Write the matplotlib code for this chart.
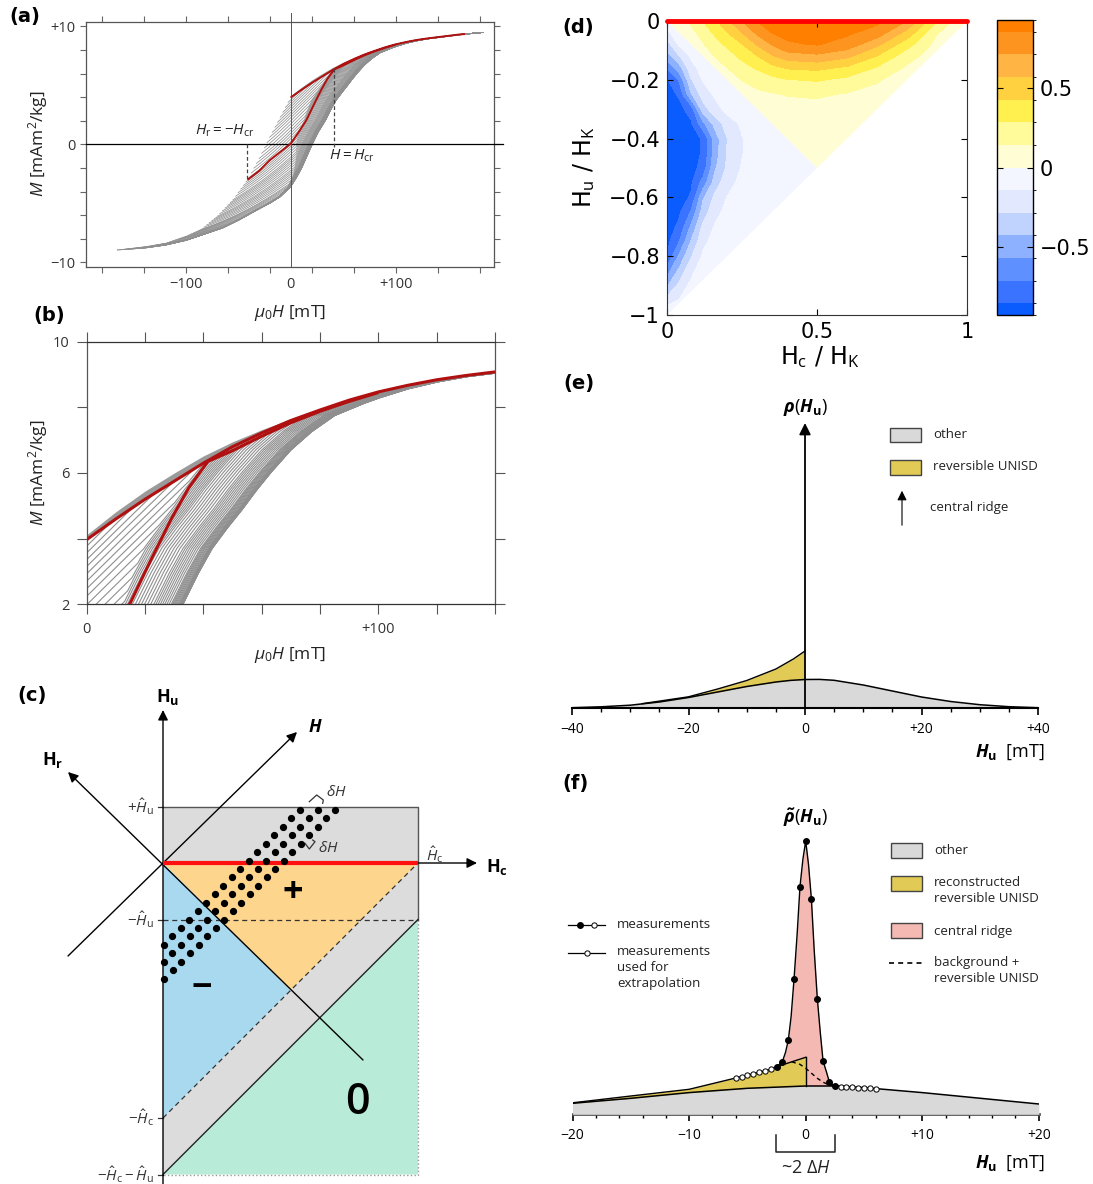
import numpy as np
import matplotlib
matplotlib.use("Agg")
import matplotlib.pyplot as plt
from matplotlib.patches import Polygon, Rectangle
from matplotlib.colors import ListedColormap, BoundaryNorm
from matplotlib.cm import ScalarMappable
from matplotlib.ticker import MultipleLocator

plt.rcParams["font.family"] = ["Open Sans", "DejaVu Sans"]
plt.rcParams["mathtext.fontset"] = "custom"
plt.rcParams["mathtext.rm"] = "Open Sans"
plt.rcParams["mathtext.it"] = "Open Sans:italic"
plt.rcParams["mathtext.bf"] = "Open Sans:bold"
plt.rcParams["mathtext.bfit"] = "Open Sans:italic:bold"

# ---------------- data ----------------
# (a)/(b) hysteresis: field in mT, moment in mAm2/kg
desc_H = [-165, -140, -120, -100, -85, -70, -55, -41, -30, -20, -10, 0, 10, 20, 30, 40, 50, 60,
          70, 80, 90, 100, 110, 120, 130, 140, 160, 183]
desc_M = [-8.95, -8.7, -8.4, -7.8, -7.2, -6.1, -4.7, -3.0, -1.2, 0.6, 2.3, 3.97, 4.6, 5.2, 5.75,
          6.3, 6.8, 7.22, 7.6, 7.92, 8.22, 8.47, 8.67, 8.84, 8.97, 9.08, 9.3, 9.48]
asc_H = [-165, -140, -120, -100, -80, -65, -50, -35, -20, -10, 0, 5, 10, 15, 20, 26, 33, 38, 43,
         48, 53, 58, 63, 70, 77, 85, 95, 100, 110, 120, 130, 140, 160, 183]
asc_M = [-8.95, -8.8, -8.55, -8.15, -7.55, -7.1, -6.45, -5.7, -5.0, -4.45, -3.6, -2.9, -2.1, -1.1,
         -0.1, 1.0, 2.0, 2.9, 3.7, 4.3, 4.85, 5.45, 6.0, 6.7, 7.25, 7.75, 8.12, 8.28, 8.56, 8.77,
         8.93, 9.04, 9.28, 9.48]
band_H = [0, 10, 20, 30, 40, 50, 60, 70, 80, 100, 120, 140]
band_M = [4.12, 4.82, 5.45, 6.0, 6.52, 6.95, 7.32, 7.65, 7.94, 8.47, 8.84, 9.08]
red_H = [-41, -30, -20, -10, 0, 7, 15, 22, 29, 35, 41.5, 50, 60, 70, 80, 90, 100]
red_M = [-3.0, -2.25, -1.35, -0.65, 0.05, 0.95, 2.05, 3.35, 4.6, 5.55, 6.35, 6.68, 7.12, 7.53,
         7.88, 8.18, 8.45]
H_cr = 41.5
# shape of the grey FORC family
rev_H = [-165, -120, -80, -40, 0, 40, 80, 120, 183]
rev_k = [0.012, 0.025, 0.045, 0.065, 0.088, 0.085, 0.055, 0.025, 0.008]
gain_Hr = [-165, -120, -80, -41, 0]
gain_v = [0.3, 0.5, 0.75, 1.0, 1.0]
shift_Hr = [-165, -100, -80, -60, -41, 0]
shift_v = [0, 1, 4, 10, 18, 30]
forc_step = 2.5

# (d) FORC diagram values on a coarse grid (Hc/HK, Hu/HK)
hc_grid = [0, .04, .08, .12, .16, .2, .25, .3, .35, .4, .5, .6, .7, .8, .9, 1.0]
hu_grid = [0, -.04, -.08, -.12, -.16, -.2, -.25, -.3, -.35, -.4, -.45, -.5, -.55, -.6, -.65,
           -.7, -.75, -.8, -.9, -1.0]
forc_z = [
    [0.00, 0.08, 0.17, 0.29, 0.40, 0.54, 0.71, 0.86, 0.90, 0.92, 0.92, 0.91, 0.89, 0.71, 0.29, 0.00],
    [-0.20, 0.00, 0.10, 0.20, 0.31, 0.42, 0.57, 0.74, 0.86, 0.89, 0.90, 0.88, 0.80, 0.52, 0.15, 0.05],
    [-0.35, -0.12, 0.00, 0.13, 0.23, 0.31, 0.42, 0.58, 0.72, 0.84, 0.865, 0.80, 0.60, 0.34, 0.09, 0.05],
    [-0.50, -0.30, -0.12, 0.00, 0.15, 0.22, 0.32, 0.42, 0.55, 0.64, 0.68, 0.60, 0.42, 0.20, 0.06, 0.05],
    [-0.70, -0.50, -0.20, -0.08, 0.00, 0.14, 0.23, 0.30, 0.38, 0.44, 0.46, 0.40, 0.27, 0.12, 0.05, 0.05],
    [-0.87, -0.70, -0.30, -0.13, -0.07, 0.00, 0.15, 0.20, 0.24, 0.28, 0.30, 0.25, 0.16, 0.05, 0.05, 0.05],
    [-0.92, -0.84, -0.45, -0.22, -0.12, -0.06, 0.00, 0.11, 0.13, 0.15, 0.16, 0.13, 0.09, 0.05, 0.05, 0.05],
    [-0.92, -0.90, -0.80, -0.35, -0.20, -0.10, -0.05, 0.00, 0.08, 0.09, 0.10, 0.09, 0.05, 0.05, 0.05, 0.05],
    [-0.92, -0.92, -0.88, -0.62, -0.38, -0.22, -0.12, -0.06, 0.00, 0.07, 0.08, 0.07, 0.05, 0.05, 0.05, 0.05],
    [-0.92, -0.92, -0.92, -0.84, -0.50, -0.29, -0.15, -0.07, -0.04, 0.00, 0.06, 0.05, 0.05, 0.05, 0.05, 0.05],
    [-0.92, -0.92, -0.92, -0.84, -0.50, -0.28, -0.15, -0.07, -0.04, -0.03, 0.04, 0.05, 0.05, 0.05, 0.05, 0.05],
    [-0.92, -0.92, -0.92, -0.80, -0.45, -0.26, -0.13, -0.06, -0.04, -0.04, 0.00, 0.05, 0.05, 0.05, 0.05, 0.05],
    [-0.92, -0.92, -0.88, -0.66, -0.36, -0.20, -0.10, -0.05, -0.03, -0.03, 0.00, 0.05, 0.05, 0.05, 0.05, 0.05],
    [-0.92, -0.92, -0.84, -0.45, -0.25, -0.14, -0.07, -0.04, -0.03, -0.03, 0.00, 0.05, 0.05, 0.05, 0.05, 0.05],
    [-0.92, -0.88, -0.70, -0.36, -0.19, -0.10, -0.05, -0.03, -0.03, -0.03, 0.00, 0.05, 0.05, 0.05, 0.05, 0.05],
    [-0.92, -0.83, -0.55, -0.25, -0.13, -0.07, -0.04, -0.03, -0.03, -0.03, 0.00, 0.05, 0.05, 0.05, 0.05, 0.05],
    [-0.90, -0.72, -0.42, -0.18, -0.09, -0.05, -0.03, -0.03, -0.03, -0.03, 0.00, 0.05, 0.05, 0.05, 0.05, 0.05],
    [-0.85, -0.55, -0.30, -0.12, -0.06, -0.03, -0.03, -0.03, -0.03, -0.03, 0.00, 0.05, 0.05, 0.05, 0.05, 0.05],
    [-0.45, -0.25, -0.10, -0.04, -0.03, -0.03, -0.03, -0.03, -0.03, -0.03, 0.00, 0.05, 0.05, 0.05, 0.05, 0.05],
    [0.00, -0.03, -0.03, -0.03, -0.03, -0.03, -0.03, -0.03, -0.03, -0.03, 0.00, 0.05, 0.05, 0.05, 0.05, 0.05],
]
d_levels = [-0.93, -6/7, -5/7, -4/7, -3/7, -2/7, -1/7, 0, 1/7, 2/7, 3/7, 4/7, 5/7, 6/7, 0.93]
d_colors = ["#0a5cff", "#3a73ff", "#5f90ff", "#8db0ff", "#c0d3ff", "#e2e9ff", "#f4f6ff",
            "#fffdd4", "#fffa9a", "#fff050", "#ffd040", "#ffb444", "#fd9420", "#ff8000"]

# (e) distribution of Hu (heights in arbitrary units)
e_x = [-40, -35, -30, -25, -20, -15, -10, -5, -2.5, 0, 2.5, 5, 10, 15, 20, 25, 30, 35, 40]
e_other = [0.3, 1.2, 2.8, 6.0, 10.5, 16.0, 21.5, 26.0, 27.6, 28.5, 28.6, 27.7, 23.0, 17.0, 11.0,
           6.5, 3.3, 1.3, 0.3]
e_unisd_x = [-28, -20, -15, -10, -5, -2, 0]
e_unisd = [4.3, 11.2, 19.0, 27.5, 39.0, 49.0, 57.0]
e_ridge = 285

# (f) measured profile
f_x = [-20, -15, -10, -5, 0, 2.5, 5, 10, 15, 20]
f_other = [11.0, 16.0, 21.7, 26.0, 28.3, 28.3, 26.7, 21.7, 16.0, 10.3]
f_unisd_x = [-20, -15, -10, -6, -3, -2.46, 0]
f_unisd = [11.5, 18.3, 25.0, 36.3, 45.0, 47.7, 57.0]
f_ridge_x = [-2.46, -2.0, -1.73, -1.49, -1.25, -1.0, -0.73, -0.49, -0.24, 0, 0.24, 0.49, 0.73,
             1.0, 1.25, 1.49, 1.79, 2.04, 2.3, 2.5]
f_ridge = [47.7, 52.7, 62, 74.3, 98, 135.3, 181, 227.7, 255, 273.3, 250, 215, 164, 115.3, 82,
           53.3, 42, 32, 30, 28.3]
f_meas_x = [-2.46, -2.0, -1.49, -1.0, -0.49, 0, 0.49, 1.0, 1.49, 2.04, 2.5]
f_meas = [47.7, 52.7, 74.3, 135.3, 227.7, 273.3, 215, 115.3, 53.3, 32, 28.3]
f_extra_lx = [-6, -5.5, -5, -4.5, -4, -3.5, -3]
f_extra_l = [36.3, 37.7, 39.3, 40.7, 42, 43.3, 45]
f_extra_rx = [3, 3.5, 4, 4.5, 5, 5.5, 6]
f_extra_r = [27.7, 27.3, 27, 26.7, 26.3, 26, 25.7]
f_bg_x = [-1.2, -0.5, 0, 0.5, 1.0, 1.5, 2.0, 2.5]
f_bg = [52.5, 50, 46, 41, 36, 32, 29.5, 28.3]

GREY = "#d9d9d9"
YEL = "#e1ca55"
PINK = "#f4b9b2"
DARKRED = "#b01010"

W, H = 1093, 1184
fig = plt.figure(figsize=(W / 100, H / 100), dpi=100)


def box(l, t, r, b):
    return [l / W, 1 - b / H, (r - l) / W, (b - t) / H]


def ftext(x, y, s, **kw):
    kw.setdefault("ha", "center")
    kw.setdefault("va", "center")
    return fig.text(x / W, 1 - y / H, s, **kw)


# ---------------- FORC family ----------------
h_all = np.linspace(-165, 183, 1393)
k_all = np.interp(h_all, rev_H, rev_k)
r_all = np.concatenate([[0.0], np.cumsum(0.5 * (k_all[1:] + k_all[:-1]) * np.diff(h_all))])


def forc(hr):
    h = np.concatenate([[hr], h_all[h_all > hr]])
    up = np.interp(h, desc_H, desc_M)
    m0 = np.interp(hr, desc_H, desc_M)
    g = np.interp(hr, gain_Hr, gain_v)
    s = np.interp(hr, shift_Hr, shift_v)
    rev = m0 + g * (np.interp(h, h_all, r_all) - np.interp(hr, h_all, r_all))
    sw = np.interp(h + s, asc_H, asc_M)
    return h, np.minimum(up, np.maximum(rev, sw))


forcs = [forc(hr) for hr in np.arange(0, -165.5, -forc_step)]
forcs.append((np.array(asc_H, float), np.array(asc_M, float)))


def draw_loops(ax, lw_grey, lw_red, red_end):
    for h, m in forcs:
        ax.plot(h, m, color="#8f8f8f", lw=lw_grey, zorder=2)
    hb = np.array(band_H)
    ax.fill_between(hb, np.interp(hb, desc_H, desc_M), band_M, color="#9a9a9a", lw=0, zorder=2)
    up_h = [x for x in desc_H if 0 <= x <= red_end]
    up_m = [m for x, m in zip(desc_H, desc_M) if 0 <= x <= red_end]
    up_h.append(red_end)
    up_m.append(np.interp(red_end, desc_H, desc_M))
    ax.plot(up_h, up_m, color=DARKRED, lw=lw_red, zorder=4, solid_capstyle="butt")
    ax.plot(red_H, red_M, color=DARKRED, lw=lw_red, zorder=4, solid_capstyle="butt")


# ---------------- (a) ----------------
axA = fig.add_axes(box(86, 21.7, 494.3, 266.7))
axA.set_xlim(-194.9, 193.9)
axA.set_ylim(-10.37, 10.39)
draw_loops(axA, 0.55, 1.4, 166)
axA.plot([-194.9, 202], [0, 0], color="k", lw=0.9, clip_on=False, zorder=3)
axA.plot([0, 0], [-10.37, 11.15], color="#555555", lw=0.7, clip_on=False, zorder=3)
axA.plot([-H_cr, -H_cr], [0, -3.0], ls=(0, (3, 2)), color="#444444", lw=0.9, zorder=5)
axA.plot([H_cr, H_cr], [-0.2, 6.35], ls=(0, (3, 2)), color="#444444", lw=0.9, zorder=5)
axA.set_xticks([-180, -140, -100, -60, -20, 20, 60, 100, 140, 180],
               labels=["", "", "\u2212100", "", "", "", "", "+100", "", ""])
axA.set_xticks([0], labels=["0"], minor=True)
axA.set_yticks([-10, -8, -6, -4, -2, 0, 2, 4, 6, 8, 10],
               labels=["\u221210", "", "", "", "", "0", "", "", "", "", "+10"])
axA.tick_params(which="major", direction="out", length=4.5, width=0.8, color="#666666",
                top=True, right=True, labelsize=10.5, labelcolor="#333333", pad=3)
axA.tick_params(axis="x", which="minor", length=0, pad=7.5, labelsize=10.5, labelcolor="#333333")
for s in axA.spines.values():
    s.set_color("#555555")
    s.set_linewidth(0.9)
ftext(225, 131, r"$H_\mathrm{r} = -H_\mathrm{cr}$", fontsize=11, color="#222222")
ftext(352, 156, r"$H = H_\mathrm{cr}$", fontsize=11, color="#222222")
ftext(290, 313, r"$\mu_0H$ [mT]", fontsize=12.5, color="#222222")
ftext(38, 144, r"$M$ [mAm$^2$/kg]", fontsize=12.5, rotation=90, color="#222222")

# ---------------- (b) ----------------
axB = fig.add_axes(box(86.7, 341.7, 495, 604.3))
axB.set_xlim(0, 140)
axB.set_ylim(2, 10)
draw_loops(axB, 0.8, 2.2, 140)
axB.set_xticks([0, 20, 40, 60, 80, 100, 120, 140], labels=["0", "", "", "", "", "+100", "", ""])
axB.set_yticks([2, 4, 6, 8, 10], labels=["2", "", "6", "", "10"])
axB.tick_params(direction="out", length=7.5, width=0.8, color="#555555", top=True, right=True,
                labelsize=10.5, labelcolor="#333333", pad=5)
for s in axB.spines.values():
    s.set_color("#555555")
    s.set_linewidth(0.9)
axB.spines["top"].set_color("#333333")
axB.spines["bottom"].set_color("#333333")
ftext(290, 655, r"$\mu_0H$ [mT]", fontsize=12.5, color="#222222")
ftext(38, 473, r"$M$ [mAm$^2$/kg]", fontsize=12.5, rotation=90, color="#222222")

# ---------------- (c) schematic ----------------
axC = fig.add_axes(box(0, 670, 540, 1184))
axC.set_xlim(-163, 377)
axC.set_ylim(-321, 193)
axC.axis("off")
HC, HU = 255.0, 56.5
axC.add_patch(Polygon([(0, 0), (HC, 0), (HC, HU), (0, HU)], fc="#dcdcdc", lw=0))
axC.add_patch(Polygon([(0, 0), (HC, 0), (HC / 2, -HC / 2)], fc="#fdd58c", lw=0))
axC.add_patch(Polygon([(0, 0), (HC / 2, -HC / 2), (0, -HC)], fc="#a8d9ef", lw=0))
axC.add_patch(Polygon([(0, -HC), (HC, 0), (HC, -HU), (0, -HC - HU)], fc="#dcdcdc", lw=0))
axC.add_patch(Polygon([(0, -HC - HU), (HC, -HU), (HC, -HC - HU)], fc="#b8ecd8", lw=0))
axC.plot([0, HC, HC], [HU, HU, -HU], color="#555555", lw=1)
axC.plot([HC, HC, 0], [-HU, -HC - HU, -HC - HU], color="#999999", lw=1, ls=":")
axC.plot([0, HC], [-HU, -HU], color="#333333", lw=0.9, ls=(0, (4, 3)))
axC.plot([0, HC], [-HC, 0], color="#333333", lw=0.9, ls=(0, (4, 3)))
axC.plot([0, HC], [-HC - HU, -HU], color="#222222", lw=1)
arrow = dict(arrowstyle="-|>", color="k", lw=1.0, mutation_scale=15, shrinkA=0, shrinkB=0)
axC.annotate("", xy=(0, 153), xytext=(0, -321), arrowprops=arrow)
axC.annotate("", xy=(314, 0), xytext=(0, 0), arrowprops=arrow)
axC.annotate("", xy=(134, 131), xytext=(-95, -93), arrowprops=arrow)
axC.annotate("", xy=(-95, 91), xytext=(200, -197), arrowprops=arrow)
axC.plot([0, HC], [0, 0], color="#ff1010", lw=3, zorder=5, solid_capstyle="butt")
for yy in [HU, -HU, -HC, -HC - HU]:
    axC.plot([-5, 0], [yy, yy], color="#333333", lw=0.9)
dx, dy, dc = 8.53, 8.43, 17.5
for i in range(21):
    for j in range(3):
        xx = 137 + dc * j - dx * i
        if xx >= -1:
            axC.plot(xx, 53 - dy * i, "o", ms=4.2, color="k", zorder=6)
axC.plot([146.3, 153.7, 160.3, 159.7], [61.3, 68, 63, 59.7], color="#333333", lw=0.9)
axC.plot([142, 146.3, 152, 149.7], [19.7, 14, 21.3, 23], color="#333333", lw=0.9)
axC.text(173, 71, r"$\delta H$", fontsize=11, ha="center", va="center", color="#333333")
axC.text(165, 14, r"$\delta H$", fontsize=11, ha="center", va="center", color="#333333")
axC.text(5, 166, r"$\mathbf{H}_\mathbf{u}$", fontsize=13, ha="center", va="center")
axC.text(152, 136, r"$\mathbfit{H}$", fontsize=13, ha="center", va="center")
axC.text(-110, 103, r"$\mathbf{H}_\mathbf{r}$", fontsize=13, ha="center", va="center")
axC.text(334, -4, r"$\mathbf{H}_\mathbf{c}$", fontsize=13, ha="center", va="center")
axC.text(272, 8, r"$\hat{H}_\mathrm{c}$", fontsize=11, ha="center", va="center", color="#333333")
for yy, lab in [(HU, r"$+\hat{H}_\mathrm{u}$"), (-HU, r"$-\hat{H}_\mathrm{u}$"),
                (-HC, r"$-\hat{H}_\mathrm{c}$"), (-HC - HU, r"$-\hat{H}_\mathrm{c} - \hat{H}_\mathrm{u}$")]:
    axC.text(-9, yy, lab, fontsize=11, ha="right", va="center", color="#333333")
axC.text(130, -30, "+", fontsize=26, fontweight="bold", ha="center", va="center")
axC.text(39, -126, "\u2212", fontsize=26, fontweight="bold", ha="center", va="center")
axC.text(194, -240, "0", fontsize=31, fontweight="semibold", ha="center", va="center")

# ---------------- (d) FORC diagram ----------------
axD = fig.add_axes(box(667, 21, 967, 315))
HCg, HUg = np.meshgrid(hc_grid, hu_grid)
Z = np.array(forc_z)
cs_p = axD.contourf(HCg, HUg, np.clip(Z, 1e-3, None), levels=d_levels, colors=d_colors)
cs_n = axD.contourf(HCg, HUg, np.clip(Z, None, -1e-3), levels=d_levels, colors=d_colors)
tri_p = Polygon([(0, 0), (1, 0), (0.5, -0.5)], transform=axD.transData, fc="none", lw=0)
tri_n = Polygon([(0, 0), (0.5, -0.5), (0, -1)], transform=axD.transData, fc="none", lw=0)
axD.add_patch(tri_p)
axD.add_patch(tri_n)
cs_p.set_clip_path(tri_p)
cs_n.set_clip_path(tri_n)
axD.plot([0, 1], [0, 0], color="#ff0000", lw=3.5, clip_on=False, zorder=10, solid_capstyle="round")
axD.set_xlim(0, 1)
axD.set_ylim(-1, 0)
axD.set_xticks([0, 0.5, 1], labels=["0", "0.5", "1"])
axD.set_yticks([0, -0.2, -0.4, -0.6, -0.8, -1],
               labels=["0", "\u22120.2", "\u22120.4", "\u22120.6", "\u22120.8", "\u22121"])
axD.tick_params(direction="in", length=4, top=True, right=True, labelsize=15, pad=5)
for lab in axD.get_xticklabels() + axD.get_yticklabels():
    lab.set_family("DejaVu Sans")
for s in axD.spines.values():
    s.set_color("#333333")
ftext(584, 167, r"H$_\mathrm{u}$ / H$_\mathrm{K}$", fontsize=17, rotation=90, family="DejaVu Sans")
ftext(820, 357, r"H$_\mathrm{c}$ / H$_\mathrm{K}$", fontsize=17, family="DejaVu Sans")

caxD = fig.add_axes(box(997, 20, 1033, 315))
cmapD = ListedColormap(d_colors)
normD = BoundaryNorm(d_levels, cmapD.N)
cb = fig.colorbar(ScalarMappable(norm=normD, cmap=cmapD), cax=caxD, spacing="proportional",
                  ticks=[-0.5, 0, 0.5])
cb.ax.set_yticklabels(["\u22120.5", "0", "0.5"])
cb.ax.tick_params(direction="in", length=4, left=True, right=True, labelsize=15, pad=5)
for lab in cb.ax.get_yticklabels():
    lab.set_family("DejaVu Sans")
cb.outline.set_linewidth(1)

# ---------------- (e) ----------------
axE = fig.add_axes(box(572, 420, 1038, 708))
axE.set_xlim(-40, 40)
axE.set_ylim(0, 288)
axE.patch.set_alpha(0)
axE.fill_between(e_unisd_x, 0, e_unisd, color=YEL, lw=0, zorder=1)
axE.fill_between(e_x, 0, e_other, color=GREY, lw=0, zorder=2)
axE.plot(e_unisd_x, e_unisd, color="k", lw=1.0, zorder=3)
axE.plot(e_x, e_other, color="k", lw=1.1, zorder=3)
axE.annotate("", xy=(0, e_ridge), xytext=(0, 0),
             arrowprops=dict(arrowstyle="-|>", color="k", lw=1.3, mutation_scale=17, shrinkA=0, shrinkB=0),
             annotation_clip=False, zorder=4)
for s in ["top", "right", "left"]:
    axE.spines[s].set_visible(False)
axE.spines["bottom"].set_linewidth(1.5)
axE.set_yticks([])
axE.set_xticks([-40, -20, 0, 20, 40], labels=["\u221240", "\u221220", "0", "+20", "+40"])
axE.xaxis.set_minor_locator(MultipleLocator(5))
axE.tick_params(which="major", length=5, width=1.2, labelsize=10, pad=5)
axE.tick_params(which="minor", length=3, width=1)
ftext(805, 407, r"$\mathbfit{\rho}(\mathbfit{H}_\mathbf{u})$", fontsize=13)
ftext(1010, 752, r"$\mathbfit{H}_\mathbf{u}$  [mT]", fontsize=13)
fig.patches.append(Rectangle((890 / W, 1 - 442 / H), 31 / W, 14 / H, transform=fig.transFigure,
                             fc=GREY, ec="#444444", lw=1))
fig.patches.append(Rectangle((890 / W, 1 - 475 / H), 31 / W, 15 / H, transform=fig.transFigure,
                             fc=YEL, ec="#444444", lw=1))
ftext(933, 435, "other", fontsize=9.5, ha="left", color="#222222")
ftext(933, 467, "reversible UNISD", fontsize=9.5, ha="left", color="#222222")
fig.add_artist(matplotlib.patches.FancyArrowPatch((902 / W, 1 - 528 / H), (902 / W, 1 - 488 / H),
                                                  transform=fig.transFigure, arrowstyle="-|>",
                                                  mutation_scale=14, color="k", lw=0.8))
ftext(930, 508, "central ridge", fontsize=9.5, ha="left", color="#222222")

# ---------------- (f) ----------------
axF = fig.add_axes(box(572.6, 830, 1038.8, 1114.3))
axF.set_xlim(-20, 20)
axF.set_ylim(0, 284.3)
axF.patch.set_alpha(0)
axF.fill_between(f_ridge_x, 0, f_ridge, color=PINK, lw=0, zorder=1)
axF.fill_between(f_unisd_x, 0, f_unisd, color=YEL, lw=0, zorder=2)
axF.fill_between(f_x, 0, f_other, color=GREY, lw=0, zorder=3)
axF.plot(f_x, f_other, color="k", lw=1.1, zorder=4)
axF.plot(f_unisd_x, f_unisd, color="k", lw=1.0, zorder=4)
axF.plot([0, 0], [np.interp(0, f_x, f_other), f_unisd[-1]], color="k", lw=1.0, zorder=4)
axF.plot(f_ridge_x, f_ridge, color="k", lw=1.0, zorder=4)
axF.plot(f_bg_x, f_bg, color="k", lw=1.0, ls=(0, (3, 2.5)), zorder=4)
axF.plot(f_meas_x, f_meas, "o", ms=4, color="k", zorder=5)
axF.plot(f_extra_lx, f_extra_l, "o", ms=3.8, mfc="white", mec="k", mew=0.7, zorder=5)
axF.plot(f_extra_rx, f_extra_r, "o", ms=3.8, mfc="white", mec="k", mew=0.7, zorder=5)
for s in ["top", "right", "left"]:
    axF.spines[s].set_visible(False)
axF.spines["bottom"].set_linewidth(2)
axF.spines["bottom"].set_color("#555555")
axF.set_yticks([])
axF.set_xticks([-20, -10, 0, 10, 20], labels=["\u221220", "\u221210", "0", "+10", "+20"])
axF.xaxis.set_minor_locator(MultipleLocator(2))
axF.tick_params(which="major", length=5, width=1.2, labelsize=10, pad=5)
axF.tick_params(which="minor", length=3, width=1)
ftext(805, 818, r"$\mathbfit{\tilde{\rho}}(\mathbfit{H}_\mathbf{u})$", fontsize=13)
ftext(1010, 1163, r"$\mathbfit{H}_\mathbf{u}$  [mT]", fontsize=13)
ftext(805.5, 1168, r"~2 $\Delta H$", fontsize=13, color="#222222")
fig.add_artist(plt.Line2D([776.4 / W, 776.4 / W, 834.6 / W, 834.6 / W],
                          [1 - 1135 / H, 1 - 1152 / H, 1 - 1152 / H, 1 - 1135 / H],
                          transform=fig.transFigure, color="#222222", lw=1.1))
# legend (left)
fig.add_artist(plt.Line2D([568 / W, 604.5 / W], [1 - 925 / H] * 2, transform=fig.transFigure,
                          color="k", lw=0.9))
fig.add_artist(plt.Line2D([579.7 / W], [1 - 925 / H], transform=fig.transFigure, marker="o",
                          ms=4, color="k", lw=0))
fig.add_artist(plt.Line2D([594 / W], [1 - 925 / H], transform=fig.transFigure, marker="o",
                          ms=3.8, mfc="white", mec="k", mew=0.7, lw=0))
fig.add_artist(plt.Line2D([568 / W, 604.5 / W], [1 - 953 / H] * 2, transform=fig.transFigure,
                          color="k", lw=0.9))
fig.add_artist(plt.Line2D([586.8 / W], [1 - 953 / H], transform=fig.transFigure, marker="o",
                          ms=3.8, mfc="white", mec="k", mew=0.7, lw=0))
ftext(617, 925, "measurements", fontsize=9.5, ha="left", color="#222222")
ftext(617, 945, "measurements\nused for\nextrapolation", fontsize=9.5, ha="left", va="top",
      linespacing=1.3, color="#222222")
# legend (right)
for top, col in [(843, GREY), (876, YEL), (923, PINK)]:
    fig.patches.append(Rectangle((891 / W, 1 - (top + 15) / H), 31 / W, 15 / H,
                                 transform=fig.transFigure, fc=col, ec="#444444", lw=1))
fig.add_artist(plt.Line2D([889 / W, 924.6 / W], [1 - 963 / H] * 2, transform=fig.transFigure,
                          color="k", lw=1.2, ls=(0, (3, 2.5))))
ftext(934, 851, "other", fontsize=9.5, ha="left", color="#222222")
ftext(934, 876, "reconstructed\nreversible UNISD", fontsize=9.5, ha="left", va="top",
      linespacing=1.3, color="#222222")
ftext(934, 931, "central ridge", fontsize=9.5, ha="left", color="#222222")
ftext(934, 956, "background +\nreversible UNISD", fontsize=9.5, ha="left", va="top",
      linespacing=1.3, color="#222222")

# ---------------- panel letters ----------------
for x, y, s in [(25, 16.5, "(a)"), (49, 316, "(b)"), (32, 695, "(c)"), (578, 28, "(d)"),
                (579, 383, "(e)"), (575, 784, "(f)")]:
    ftext(x, y, s, fontsize=14, fontweight="bold", family="DejaVu Sans")

fig.savefig("out.png", dpi=100)
